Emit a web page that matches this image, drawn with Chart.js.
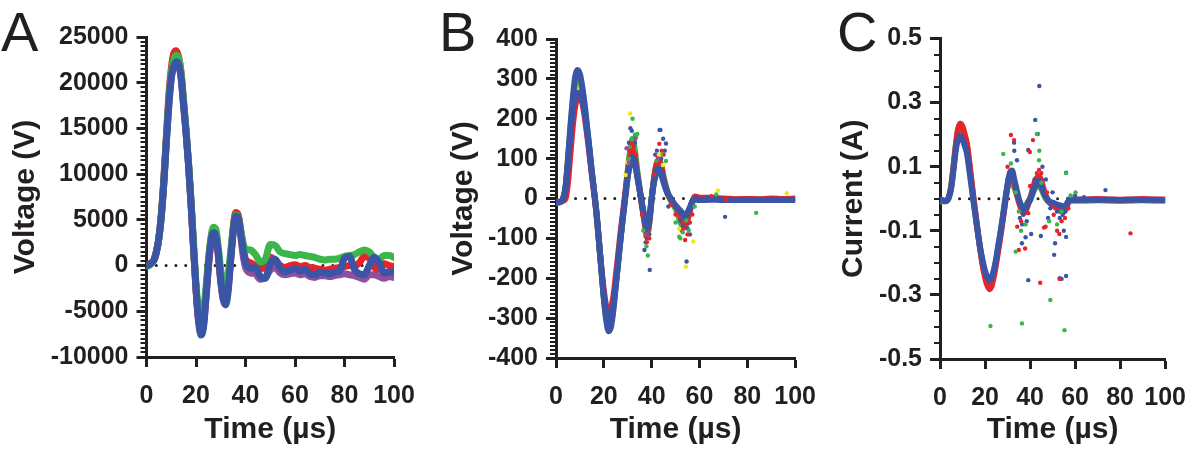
<!DOCTYPE html>
<html><head><meta charset="utf-8">
<script src="https://cdn.jsdelivr.net/npm/chart.js@4.4.1/dist/chart.umd.min.js"></script>
<style>
html,body{margin:0;padding:0;background:#fff;width:1200px;height:451px;overflow:hidden;}
.panel{position:absolute;top:0;height:451px;}
.letter{position:absolute;top:4px;font-family:"Liberation Sans",Arial,sans-serif;font-size:56px;line-height:56px;color:#231f20;}
</style></head><body>
<div class="panel" style="left:0;width:430px"><canvas id="cA" width="430" height="451"></canvas></div>
<div class="panel" style="left:420px;width:410px"><canvas id="cB" width="410" height="451"></canvas></div>
<div class="panel" style="left:820px;width:380px"><canvas id="cC" width="380" height="451"></canvas></div>
<div class="letter" style="left:1px">A</div>
<div class="letter" style="left:439px">B</div>
<div class="letter" style="left:837px">C</div>
<script>
// ---------- Panel A : Voltage (V) ----------
const tA = [0,1,2,3,4,5,6,7,8,9,10,11,12,13,14,15,16,17,18,19,20,21,22,23,24,25,26,27,28,29,30,31,32,33,34,35,36,37,38,39,
  40,42,44,46,48,50,52,54,56,58,60,62,64,66,68,70,72,74,76,78,80,82,84,86,88,90,92,94,96,98,100];
const blueA = [0,100,300,600,1500,3000,5500,9000,13500,17500,
  20500,21800,22300,22000,20500,17500,14500,11000,6800,2000,
  -2500,-6000,-7600,-6800,-3500,0,2500,3600,3300,1500,
  -1500,-3700,-4300,-2800,500,3500,5400,5300,3600,1800,
  400,-300,-200,-1200,-1400,200,700,-300,-700,
  -500,-300,-600,-400,-900,-1000,-700,-800,-900,-700,
  -600,800,1000,-400,-900,-1000,0,900,300,-800,-700,-700];
const greenA = [-100,0,200,600,1500,3000,5500,9200,13800,18000,
  21000,22500,23000,22700,21000,18000,14800,11200,7000,2500,
  -2000,-4800,-5600,-5000,-2500,500,3000,4200,4000,2000,
  -500,-1800,-2200,-900,1500,4000,5500,5400,4000,2500,
  1800,1700,1200,400,700,2300,2200,1500,1300,
  1200,1100,1200,1100,1000,900,700,600,700,700,
  800,1000,1100,1200,1500,1700,1500,900,700,1100,1100,900];
const redA = [0,100,300,600,1500,3000,5600,9500,14000,18500,
  21500,23200,23500,22800,21000,17800,14600,11000,6800,2000,
  -2500,-5800,-6800,-6200,-3200,200,2800,3800,3500,1300,
  -1500,-3500,-3800,-2200,800,4000,5800,5600,4000,2000,
  700,300,0,-300,-300,900,600,0,-200,
  0,100,-100,0,-200,-300,-400,-500,-400,-300,
  -200,-100,0,0,300,1000,800,-200,-400,200,0,-100];
const purpleA = [0,100,300,600,1500,3000,5500,9000,13500,17500,
  20500,21800,22300,22000,20500,17500,14500,11000,6800,2000,
  -2500,-5800,-7200,-6600,-3800,-300,2600,3700,3300,1000,
  -1800,-3600,-4000,-2400,800,3800,5500,5200,3400,1200,
  -200,-800,-900,-1500,-1300,-500,-200,-800,-1000,
  -900,-800,-1000,-900,-1200,-1300,-1100,-1100,-1200,-1100,
  -1000,-900,-1000,-1100,-1300,-1500,-1000,-1000,-1200,-1400,-1200,-1300];
const aYTicks = [-10000,-5000,0,5000,10000,15000,20000,25000];

// ---------- Panel B : Voltage (V) ----------
const tB = [0,1,2,3,4,5,6,7,8,9,10,11,12,13,14,15,16,17,18,19,20,21,22,23,24,25,26,27,28,29,
  30,31,32,33,34,35,36,37,38,39,40,41,42,43,44,45,46,47,48,49,50,51,52,53,54,55,56,57,58,59,60,
  65,70,75,80,85,90,95,100];
const blueB = [-10,-10,-8,0,30,100,180,250,305,322,
  312,280,235,180,125,65,15,-40,-110,-180,
  -250,-305,-333,-322,-280,-220,-160,-100,-45,5,
  55,90,105,90,55,20,-15,-50,-75,-55,
  0,45,70,75,65,45,25,10,0,-10,
  -18,-25,-32,-40,-45,-38,-25,-8,0,-2,
  -3, 0,-4,-4,-3,-4,-3,-3,-3];
const blue2B = [-10,-10,-8,0,25,85,160,220,255,265,
  262,245,215,170,120,65,15,-40,-110,-180,
  -245,-285,-295,-290,-262,-215,-160,-100,-45,5,
  55,85,100,88,55,20,-15,-45,-70,-50,
  0,40,65,70,60,40,22,8,0,-10,
  -18,-25,-30,-38,-42,-35,-22,-8,-2,-3,
  -4, -3,-3,-4,-4,-3,-4,-4,-4];
const redB = [-8,-8,-8,-6,0,40,110,180,230,252,
  255,240,205,160,110,60,10,-45,-110,-175,
  -230,-270,-283,-275,-245,-195,-140,-85,-35,15,
  65,105,120,100,60,20,-20,-55,-85,-60,
  0,50,85,95,80,50,25,8,-2,-12,
  -20,-30,-45,-60,-65,-50,-30,-10,5,4,
  2, 2,0,-2,-1,-2,0,-1,0];
const greenB = [-10,-10,-8,0,30,95,170,240,290,305,
  298,270,228,175,122,65,15,-40,-110,-180,
  -250,-300,-318,-310,-272,-215,-158,-100,-45,10,
  70,120,150,120,70,25,-15,-60,-95,-65,
  0,50,85,95,85,55,30,10,-5,-15,
  -25,-40,-60,-70,-70,-55,-30,-8,0,-2,
  -2, -1,-2,-2,-3,-3,-2,-3,-2];
const yellowB = [-10,-10,-8,0,28,90,165,230,275,285,
  280,258,220,170,120,65,15,-40,-110,-180,
  -248,-298,-310,-302,-268,-215,-158,-100,-45,10,
  70,115,130,105,60,20,-20,-60,-90,-60,
  0,50,80,90,80,50,25,8,-5,-15,
  -25,-38,-55,-65,-65,-50,-28,-8,0,-1,
  -2, -1,-2,-2,-2,-2,-2,-2,-2];
const bRedOut = [[31.6,138],[32.5,130],[30.8,120],[38,-110],[37.5,-95],[39,-100],[43.2,137],[42.5,104],[44.2,120],[45,110],[43.8,90],[54,-104],[55,-90],[52.5,-80],[53.5,-75],[56,-60],[48,-15],[65,6],[71,-3],[36,-40],[41,60],[50,-40],[57,-40],[33.5,110]];
const bGreenOut = [[32,200],[33,160],[34,162],[33.5,155],[30.5,100],[38.4,-143],[36.5,-80],[46,94],[44,110],[51.5,-96],[52,-100],[53,-85],[55.5,-80],[50,-60],[83.7,-36],[67,10],[58,-20],[37.8,-120],[42,95],[54.5,-55]];
const bBlueOut = [[31.1,176],[31.7,170],[30.5,140],[33,140],[37,-129],[39.2,-179],[38,-100],[43.3,172],[43.7,172],[46,138],[44.8,150],[41.5,110],[45.5,120],[54.6,-158],[55,-75],[56,-90],[53,-70],[70.7,-46],[47,-20],[37.5,-110],[39,-90],[42.2,120],[44,100],[52,-55],[55.5,-60]];
const bYellowOut = [[31,213],[29.1,59],[44.7,84],[51.5,-76],[57.4,-108],[54.3,-171],[67.7,20],[96.5,13],[30,90],[43,110]];
const bPurpleOut = [[29.5,126],[33.2,150],[30.5,90],[38,-90],[42.8,100]];
const bYTicks = [-400,-300,-200,-100,0,100,200,300,400];

// ---------- Panel C : Current (A) ----------
const tC = tB.slice();
const blueC = [-0.005,-0.005,-0.008,-0.006,0.005,0.035,0.09,0.15,0.185,0.195,
  0.185,0.165,0.14,0.09,0.038,-0.015,-0.065,-0.115,-0.16,-0.195,
  -0.225,-0.245,-0.254,-0.245,-0.22,-0.185,-0.14,-0.1,-0.055,-0.005,
  0.045,0.08,0.088,0.06,0.03,0.0,-0.02,-0.035,-0.03,-0.015,
  -0.005,0.015,0.035,0.05,0.055,0.04,0.02,0.005,-0.005,-0.01,
  -0.012,-0.015,-0.018,-0.02,-0.022,-0.025,-0.02,-0.008,-0.005,-0.004,
  -0.004, -0.003,-0.004,-0.003,-0.004,-0.003,-0.004,-0.003,-0.004];
const redC = [-0.005,-0.005,-0.006,-0.005,0.008,0.04,0.1,0.165,0.215,0.233,
  0.225,0.2,0.17,0.115,0.055,-0.005,-0.06,-0.115,-0.165,-0.21,
  -0.245,-0.27,-0.282,-0.27,-0.24,-0.2,-0.155,-0.11,-0.06,-0.01,
  0.04,0.07,0.075,0.05,0.02,-0.01,-0.03,-0.045,-0.04,-0.02,
  0.0,0.025,0.05,0.065,0.07,0.055,0.03,0.01,-0.005,-0.015,
  -0.02,-0.025,-0.03,-0.035,-0.04,-0.04,-0.03,-0.01,-0.003,-0.002,
  -0.002, -0.002,-0.001,-0.002,-0.003,-0.002,-0.001,-0.002,-0.002];
const greenC = [-0.008,-0.008,-0.008,-0.007,0.006,0.04,0.1,0.165,0.215,0.235,
  0.222,0.195,0.165,0.11,0.05,-0.008,-0.062,-0.115,-0.162,-0.205,
  -0.238,-0.258,-0.266,-0.255,-0.228,-0.19,-0.145,-0.1,-0.05,0.0,
  0.035,0.05,0.05,0.035,0.015,-0.005,-0.02,-0.03,-0.025,-0.01,
  0.0,0.015,0.03,0.04,0.04,0.03,0.015,0.0,-0.008,-0.012,
  -0.015,-0.018,-0.02,-0.022,-0.025,-0.025,-0.02,-0.008,-0.006,-0.006,
  -0.006, -0.006,-0.005,-0.006,-0.007,-0.006,-0.005,-0.006,-0.006];
const cBlueOut = [[44.1,0.352],[42.3,0.246],[43.4,0.202],[32.9,0.175],[34.2,0.12],[39.2,0.152],[36.4,-0.139],[39.2,-0.254],[44.8,-0.116],[51.1,-0.139],[50.7,-0.175],[53.2,-0.248],[54,-0.25],[56,-0.241],[56,-0.119],[55,-0.1],[56,0.081],[73.5,0.027],[53.2,-0.06],[47,0.06],[40.5,-0.11],[38,-0.12],[33,0.15],[48,-0.06],[30,0.06],
  [35.5,-0.06],[36.5,-0.08],[37,-0.05],[38.5,-0.07],[41,0.03],[42,0.06],[45.5,0.1],[46,0.03],[49,-0.03],[50,0.02],[52,-0.04],[54.5,-0.05],[55.5,-0.04],[57,0.0],[60,0.01],[64,0.005],[68,0.0]];
const cRedOut = [[31.5,0.199],[32.9,0.183],[41.3,0.183],[39.9,0.146],[37.8,-0.155],[44.5,-0.262],[46.9,-0.087],[46.2,-0.09],[53.1,-0.25],[84.6,-0.108],[34.3,-0.087],[39.2,-0.045],[45,0.08],[43,0.08],[35,-0.16],[52,-0.1],[53,-0.11],[57,-0.03],[30,0.1],
  [36,-0.07],[40,0.04],[44,0.09],[47.5,0.02],[50.5,-0.05],[54,-0.07],[55.5,-0.06]];
const cGreenOut = [[28.1,0.14],[43,0.202],[44.1,0.15],[60.2,0.02],[56,0.08],[33.6,-0.165],[49,-0.316],[22.4,-0.397],[36.4,-0.389],[55.3,-0.41],[48.5,-0.07],[33.6,0.02],[31.5,0.11],[44,0.12],[36,-0.1],[52,-0.08],
  [35,-0.04],[38,-0.08],[45,0.05],[54,-0.04],[58,0.01]];
const cYTicks = [-0.5,-0.3,-0.1,0.1,0.3,0.5];

const xTicks = [0,20,40,60,80,100];

// ---------- styling ----------
const INK = '#231f20';
const COL = {red:'#e8232a', green:'#3cb64a', blue:'#3b55a6', purple:'#8e4f9f', yellow:'#efe81c'};
const FONT = '"Liberation Sans", Arial, Helvetica, sans-serif';
Chart.defaults.font.family = FONT;
Chart.defaults.color = INK;

const minorTicks = {
  id: 'minorTicks',
  afterDraw(chart, args, o) {
    const s = chart.scales.y, ctx = chart.ctx, left = chart.chartArea.left;
    const n = Math.round((s.max - s.min) / o.step);
    ctx.save();
    ctx.strokeStyle = INK; ctx.lineWidth = o.width;
    for (let i = 0; i <= n; i++) {
      const py = Math.round(s.getPixelForValue(s.min + i * o.step));
      ctx.beginPath(); ctx.moveTo(left - o.len, py); ctx.lineTo(left, py); ctx.stroke();
    }
    ctx.restore();
  }
};

function pts(t, v) { return t.map((x, i) => ({x: x, y: v[i]})); }
function pairs(p) { return p.map(q => ({x: q[0], y: q[1]})); }
function band(t, v, color, order, w) {
  return {data: pts(t, v), borderColor: color, borderWidth: w, pointRadius: 0,
    cubicInterpolationMode: 'monotone', borderJoinStyle: 'round', borderCapStyle: 'round', order: order};
}
function dots(p, color) {
  return {data: pairs(p), showLine: false, pointRadius: 2.2, pointBorderWidth: 0,
    pointBackgroundColor: color, borderColor: color, order: 0};
}
function zero() {
  return {data: [{x: 0, y: 0}, {x: 100, y: 0}], borderColor: INK, borderWidth: 3,
    borderDash: [0, 9.8], borderCapStyle: 'round', pointRadius: 0, order: 50};
}

function makeChart(id, cfg) {
  new Chart(document.getElementById(id), {
    type: 'line',
    data: {datasets: cfg.datasets},
    plugins: [minorTicks],
    options: {
      responsive: false, animation: false, devicePixelRatio: 1,
      layout: {padding: {left: 0, top: cfg.top, right: cfg.right, bottom: 0}},
      plugins: {legend: {display: false}, tooltip: {enabled: false},
        minorTicks: {step: cfg.minor, len: 6, width: 2}},
      scales: {
        x: {type: 'linear', min: 0, max: 100,
          afterBuildTicks: s => { s.ticks = xTicks.map(v => ({value: v})); },
          afterFit: s => { s.height = 451 - cfg.bottom; },
          border: {display: true, color: INK, width: 3},
          grid: {display: true, drawOnChartArea: false, drawTicks: true, tickLength: 10, tickWidth: 3, tickColor: INK},
          ticks: {autoSkip: false, maxRotation: 0, padding: 14, color: INK,
            font: {size: 25, weight: 'bold'}, callback: v => String(v)},
          title: {display: true, text: 'Time (\u00b5s)', color: INK, padding: {top: 0, bottom: 3},
            font: {size: 30, weight: 'bold'}}
        },
        y: {type: 'linear', min: cfg.ymin, max: cfg.ymax,
          afterBuildTicks: s => { s.ticks = cfg.yticks.map(v => ({value: v})); },
          afterFit: s => { s.width = cfg.yw; },
          border: {display: true, color: INK, width: 3},
          grid: {display: true, drawOnChartArea: false, drawTicks: true, tickLength: 10, tickWidth: 3, tickColor: INK},
          ticks: {autoSkip: false, padding: 8, color: INK,
            font: {size: 25, weight: 'bold'}, callback: v => String(v)},
          title: {display: true, text: cfg.ytitle, color: INK, padding: {top: cfg.tpad, bottom: 0},
            font: {size: 30, weight: 'bold'}}
        }
      }
    }
  });
}

makeChart('cA', {
  top: 37, right: 36, bottom: 357, yw: 146.5, tpad: 8, minor: 500,
  ymin: -10000, ymax: 25000, yticks: aYTicks, ytitle: 'Voltage (V)',
  datasets: [zero(),
    band(tA, purpleA, COL.purple, 4, 7), band(tA, redA, COL.red, 3, 7),
    band(tA, greenA, COL.green, 2, 7), band(tA, blueA, COL.blue, 1, 7)]
});

makeChart('cB', {
  top: 39, right: 31, bottom: 358, yw: 136, tpad: 26, minor: 10,
  ymin: -400, ymax: 400, yticks: bYTicks, ytitle: 'Voltage (V)',
  datasets: [zero(),
    band(tB, yellowB, COL.yellow, 6, 6), band(tB, greenB, COL.green, 5, 6),
    band(tB, redB, COL.red, 4, 6), band(tB, blueB, COL.blue, 2, 6), band(tB, blue2B, COL.blue, 1, 6),
    dots(bPurpleOut, COL.purple), dots(bYellowOut, COL.yellow), dots(bGreenOut, COL.green),
    dots(bRedOut, COL.red), dots(bBlueOut, COL.blue)]
});

makeChart('cC', {
  top: 38.5, right: 22, bottom: 359, yw: 120, tpad: 15.5, minor: 0.05,
  ymin: -0.5, ymax: 0.5, yticks: cYTicks, ytitle: 'Current (A)',
  datasets: [zero(),
    band(tC, greenC, COL.green, 4, 6), band(tC, redC, COL.red, 3, 6), band(tC, blueC, COL.blue, 1, 6),
    dots(cGreenOut, COL.green), dots(cRedOut, COL.red), dots(cBlueOut, COL.blue)]
});
</script>
</body></html>
